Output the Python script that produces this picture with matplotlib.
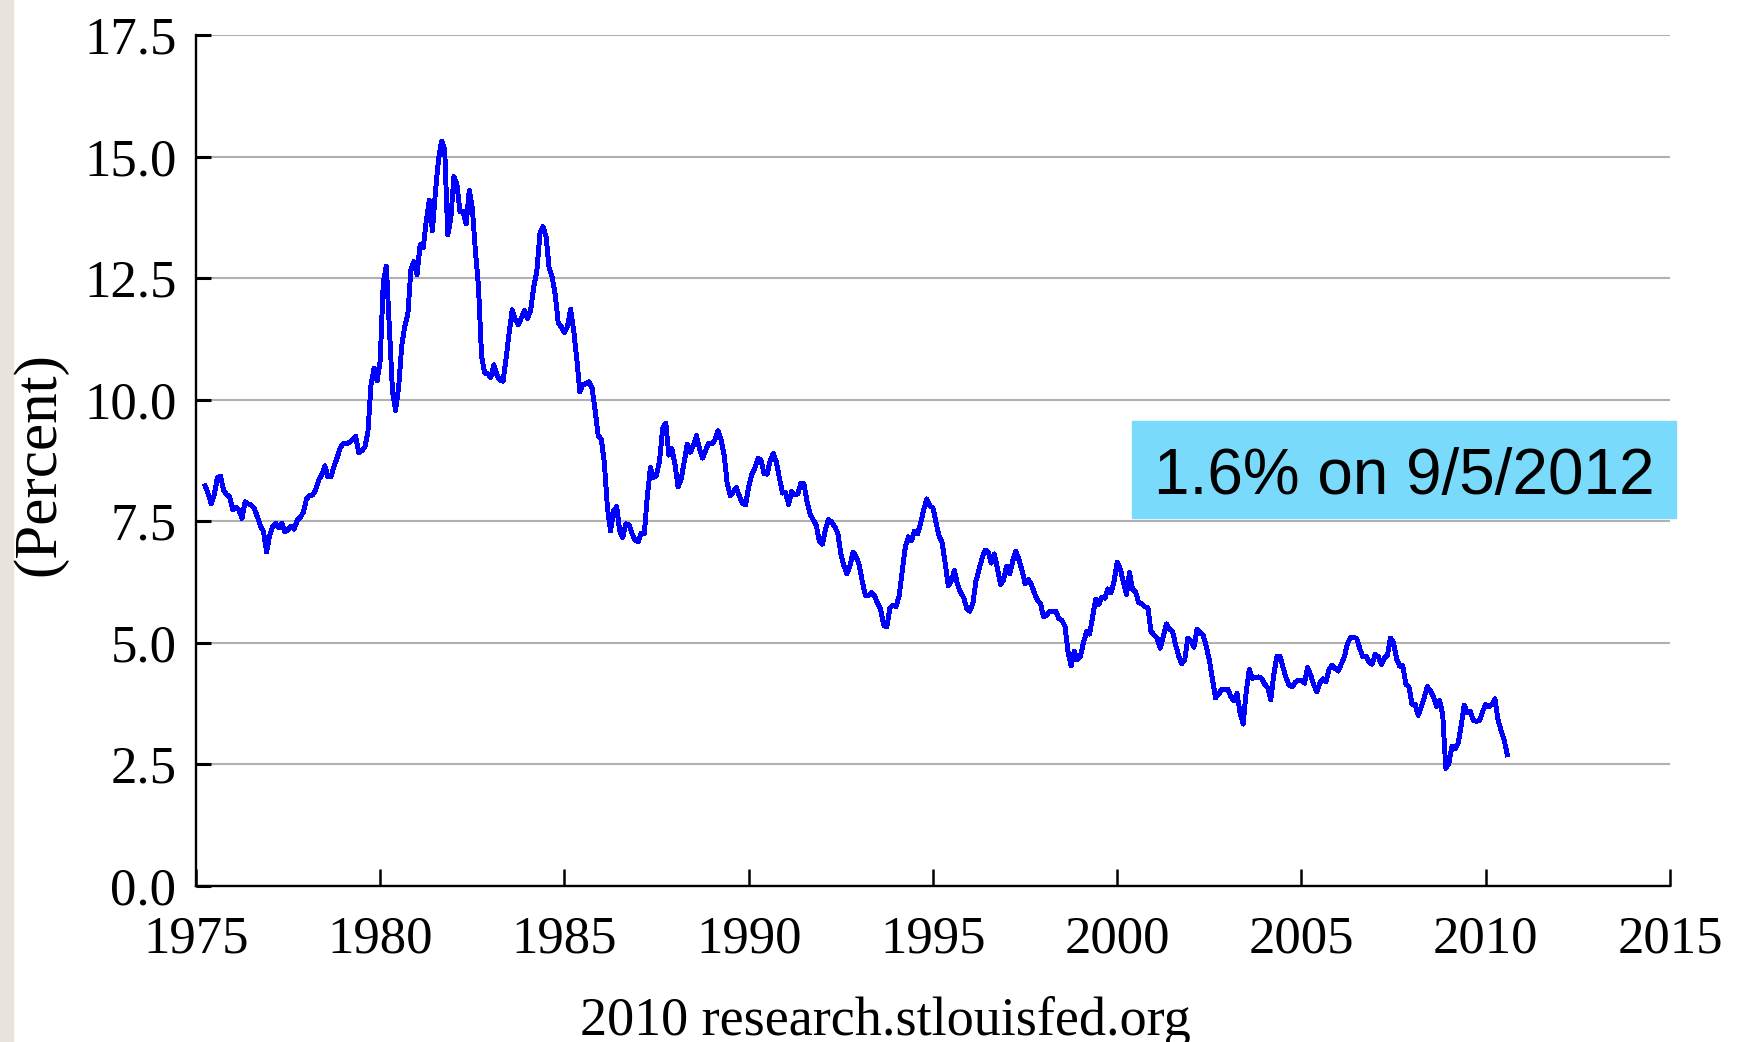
import numpy as np
import matplotlib
matplotlib.use('Agg')
import matplotlib.pyplot as plt
from matplotlib.patches import Rectangle

# 10-year treasury yield, monthly, starting April 1975 (percent)
start_year = 1975.25
rates_1970s = [8.23, 8.06, 7.86, 8.06, 8.40, 8.43, 8.14, 8.05, 8.00,
               7.74, 7.79, 7.73, 7.56, 7.90, 7.86, 7.83, 7.77, 7.59, 7.41, 7.29, 6.87,
               7.21, 7.39, 7.46, 7.37, 7.46, 7.28, 7.33, 7.40, 7.34, 7.52, 7.58, 7.69,
               7.96, 8.03, 8.04, 8.15, 8.35, 8.46, 8.64, 8.41, 8.42, 8.64, 8.81, 9.01,
               9.10, 9.10, 9.12, 9.18, 9.25, 8.91, 8.95, 9.03, 9.33, 10.30, 10.65, 10.39]
rates_1980s = [10.80, 12.41, 12.75, 11.47, 10.18, 9.78, 10.25, 11.10, 11.51, 11.75, 12.68, 12.84,
               12.57, 13.19, 13.12, 13.68, 14.10, 13.47, 14.28, 14.94, 15.32, 15.15, 13.39, 13.72,
               14.59, 14.43, 13.86, 13.87, 13.62, 14.30, 13.95, 13.06, 12.34, 10.91, 10.55, 10.54,
               10.46, 10.72, 10.51, 10.40, 10.38, 10.85, 11.38, 11.85, 11.65, 11.54, 11.69, 11.83,
               11.67, 11.84, 12.32, 12.63, 13.41, 13.56, 13.36, 12.72, 12.52, 12.16, 11.57, 11.50,
               11.38, 11.51, 11.86, 11.43, 10.85, 10.16, 10.31, 10.33, 10.37, 10.24, 9.78, 9.26,
               9.19, 8.70, 7.78, 7.30, 7.71, 7.80, 7.30, 7.17, 7.45, 7.43, 7.25, 7.11,
               7.08, 7.25, 7.25, 8.02, 8.61, 8.40, 8.45, 8.76, 9.42, 9.52, 8.86, 8.99,
               8.67, 8.21, 8.37, 8.72, 9.09, 8.92, 9.06, 9.26, 8.98, 8.80, 8.96, 9.11,
               9.09, 9.17, 9.36, 9.18, 8.86, 8.28, 8.02, 8.11, 8.19, 8.01, 7.87, 7.84]
rates_1990s = [8.21, 8.47, 8.59, 8.79, 8.76, 8.48, 8.47, 8.75, 8.89, 8.72, 8.39, 8.08,
               8.09, 7.85, 8.11, 8.04, 8.07, 8.28, 8.27, 7.90, 7.65, 7.53, 7.42, 7.09,
               7.03, 7.34, 7.54, 7.48, 7.39, 7.26, 6.84, 6.59, 6.42, 6.59, 6.87, 6.77,
               6.60, 6.26, 5.98, 5.97, 6.04, 5.96, 5.81, 5.68, 5.36, 5.33, 5.72, 5.77,
               5.75, 5.97, 6.48, 6.97, 7.18, 7.10, 7.30, 7.24, 7.46, 7.74, 7.96, 7.81,
               7.78, 7.47, 7.20, 7.06, 6.63, 6.17, 6.28, 6.49, 6.20, 6.04, 5.93, 5.71,
               5.65, 5.81, 6.27, 6.51, 6.74, 6.91, 6.87, 6.64, 6.83, 6.53, 6.20, 6.30,
               6.58, 6.42, 6.69, 6.89, 6.71, 6.49, 6.22, 6.30, 6.21, 6.03, 5.88, 5.81,
               5.54, 5.57, 5.65, 5.64, 5.65, 5.50, 5.46, 5.34, 4.81, 4.53, 4.83, 4.65,
               4.72, 5.00, 5.23, 5.18, 5.54, 5.90, 5.79, 5.94, 5.92, 6.11, 6.03, 6.28]
rates_2000s = [6.66, 6.52, 6.26, 5.99, 6.44, 6.10, 6.05, 5.83, 5.80, 5.74, 5.72, 5.24,
               5.16, 5.10, 4.89, 5.14, 5.39, 5.28, 5.24, 4.97, 4.73, 4.57, 4.65, 5.09,
               5.04, 4.91, 5.28, 5.21, 5.16, 4.93, 4.65, 4.26, 3.87, 3.94, 4.05, 4.03,
               4.05, 3.90, 3.81, 3.96, 3.57, 3.33, 3.98, 4.45, 4.27, 4.29, 4.30, 4.27,
               4.15, 4.08, 3.83, 4.35, 4.72, 4.73, 4.50, 4.28, 4.13, 4.10, 4.19, 4.23,
               4.22, 4.17, 4.50, 4.34, 4.14, 4.00, 4.18, 4.26, 4.20, 4.46, 4.54, 4.47,
               4.42, 4.57, 4.72, 4.99, 5.11, 5.11, 5.09, 4.88, 4.72, 4.73, 4.60, 4.56,
               4.76, 4.72, 4.56, 4.69, 4.75, 5.10, 5.00, 4.67, 4.52, 4.53, 4.15, 4.10,
               3.74, 3.74, 3.51, 3.68, 3.88, 4.10, 4.01, 3.89, 3.69, 3.81, 3.53, 2.42,
               2.52, 2.87, 2.82, 2.93, 3.29, 3.72, 3.56, 3.59, 3.40, 3.39, 3.40, 3.59]
rates_2010 = [3.73, 3.69, 3.73, 3.85, 3.42, 3.20, 3.01, 2.70]

x_ticks = [1975, 1980, 1985, 1990, 1995, 2000, 2005, 2010, 2015]
y_ticks = [0.0, 2.5, 5.0, 7.5, 10.0, 12.5, 15.0, 17.5]
note = '1.6% on 9/5/2012'
source = '2010 research.stlouisfed.org'
y_label = '(Percent)'


def main():
    rates = np.array(rates_1970s + rates_1980s + rates_1990s + rates_2000s + rates_2010)
    dates = start_year + np.arange(len(rates)) / 12.0

    plt.rcParams['font.family'] = ['Liberation Serif', 'DejaVu Serif']

    fig = plt.figure(figsize=(17.37, 10.42), dpi=100)
    ax = fig.add_axes([0.1128, 0.1497, 0.8486, 0.8167])

    ax.plot(dates, rates, color='#0000ff', lw=2.8, zorder=3, antialiased=False)

    ax.set_xlim(1975, 2015)
    ax.set_ylim(0, 17.5)
    ax.set_xticks(x_ticks)
    ax.set_yticks(y_ticks)
    ax.set_yticklabels(['%.1f' % v for v in y_ticks])
    ax.yaxis.grid(True, color='#b0b0b0', lw=1.5)
    ax.set_axisbelow(True)

    for s in ['top', 'right']:
        ax.spines[s].set_visible(False)
    for s in ['left', 'bottom']:
        ax.spines[s].set_linewidth(1.7)
        ax.spines[s].set_color('black')

    ax.tick_params(axis='y', direction='in', length=11, width=2.2, pad=14, labelsize=38)
    ax.tick_params(axis='x', direction='in', length=12, width=1.8, pad=21, labelsize=38)

    # grey strip on the left edge of the slide
    fig.patches.append(Rectangle((0, 0), 13 / 1737, 1, transform=fig.transFigure,
                                 color='#e8e4dd', zorder=1))

    # highlighted note box
    fig.patches.append(Rectangle((0.6517, 0.5032), 0.3132, 0.0931, transform=fig.transFigure,
                                 color='#7adafc', zorder=1))
    fig.text(0.8083, 0.5256, note, ha='center', va='baseline', fontsize=46,
             family=['Liberation Sans', 'DejaVu Sans'], color='black', zorder=2)

    fig.text(0.0225, 0.555, y_label, rotation=90, ha='center', va='center', fontsize=44)
    fig.text(0.5099, 0.0067, source, ha='center', va='baseline', fontsize=39)

    fig.savefig('out.png', dpi=100)


if __name__ == '__main__':
    main()
